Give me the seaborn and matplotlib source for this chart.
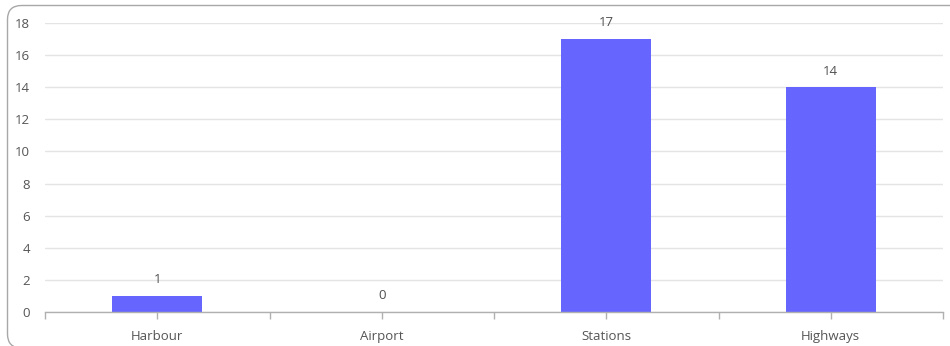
import matplotlib
matplotlib.use("Agg")
import matplotlib.pyplot as plt
from matplotlib.patches import FancyBboxPatch
from matplotlib.transforms import IdentityTransform
import seaborn as sns
import pandas as pd
import numpy as np

categories = ["Harbour", "Airport", "Stations", "Highways"]
counts = [1, 0, 17, 14]
y_ticks = [0, 2, 4, 6, 8, 10, 12, 14, 16, 18]

sns.set_style("white")
plt.rcParams["font.family"] = ["Open Sans", "DejaVu Sans"]

W, H = 950, 346
fig = plt.figure(figsize=(W / 100, H / 100), dpi=100)

# rounded outer frame in pixel units (right edge runs off the canvas)
frame = FancyBboxPatch((7.5, -2), W + 30, H - 5.5 + 2,
                       boxstyle="round,pad=0,rounding_size=14",
                       transform=IdentityTransform(), facecolor="none",
                       edgecolor="#a8a8a8", linewidth=1.0)
fig.patches.append(frame)

ax = fig.add_axes([45 / W, 1 - 312 / H, (943 - 45) / W, (312 - 23) / H])
df = pd.DataFrame({"category": categories, "count": counts})
sns.barplot(data=df, x="category", y="count", ax=ax, color="#6666FF",
            saturation=1, width=0.4, edgecolor="#6666FF", linewidth=0)

ax.set_xlim(-0.5, len(categories) - 0.5)
ax.set_ylim(0, 18)
ax.set_yticks(y_ticks)
ax.set_xlabel("")
ax.set_ylabel("")

for s in ["top", "right", "left"]:
    ax.spines[s].set_visible(False)
ax.spines["bottom"].set_color("#b0b0b0")
ax.spines["bottom"].set_linewidth(1.0)

ax.yaxis.grid(True, color="#e4e4e4", linewidth=1.0)
ax.set_axisbelow(True)

ax.tick_params(axis="y", left=False, length=0, pad=11, labelsize=9.5,
               labelcolor="#555555")
ax.set_xticks(np.arange(len(categories)))
ax.set_xticks(np.arange(-0.5, len(categories)), minor=True)
ax.tick_params(axis="x", which="both", bottom=True, direction="out", length=5,
               width=1, color="#b0b0b0", labelsize=9.5, labelcolor="#555555", pad=8)

for i, v in enumerate(counts):
    ax.annotate(str(v), (i, v), xytext=(0, 7), textcoords="offset points",
                ha="center", va="bottom", fontsize=9.5, color="#505050")

fig.savefig("out.png", dpi=100)
